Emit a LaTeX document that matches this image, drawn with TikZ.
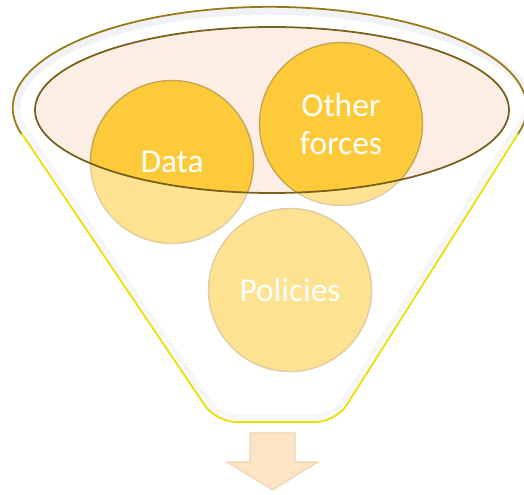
\documentclass[tikz,border=0pt]{standalone}
\usepackage{fontspec}
\setmainfont{Carlito}
\usetikzlibrary{calc}
\definecolor{ballgold}{RGB}{253,203,58}
\definecolor{ballrim}{RGB}{200,165,80}
\definecolor{rimpink}{RGB}{252,238,229}
\definecolor{rimline}{RGB}{120,96,28}
\definecolor{topline}{RGB}{150,122,20}
\definecolor{funnelline}{RGB}{236,224,0}
\definecolor{edgegray}{RGB}{200,200,215}
\definecolor{peach}{RGB}{252,228,198}
\definecolor{peachline}{RGB}{240,212,175}

\begin{document}
\begin{tikzpicture}[x=0.02cm, y=0.02cm,
  ball/.style = {circle, fill=ballgold, draw=ballrim, line width=0.8pt, minimum size=3.26cm, inner sep=0pt, text=white, align=center, font=\fontsize{19}{22}\selectfont}]
\useasboundingbox (0,0) rectangle (524,-494);
\clip (0,0) rectangle (524,-494);
        \fill[white] (22,-134) [rounded corners=0.4cm] -- (216,-422) -- (336,-422) -- (518,-134) [sharp corners] arc[start angle=-15, end angle=195, x radius=257, y radius=101] -- cycle;
        \begin{scope}
          \clip (22,-134) [rounded corners=0.4cm] -- (216,-422) -- (336,-422) -- (518,-134) [sharp corners] arc[start angle=-15, end angle=195, x radius=257, y radius=101] -- cycle;
          \draw[edgegray, line width=9pt, opacity=0.22] (22,-134) [rounded corners=0.4cm] -- (216,-422) -- (336,-422) -- (518,-134) [sharp corners] arc[start angle=-15, end angle=195, x radius=257, y radius=101] -- cycle;
        \end{scope}
        \fill[rimpink] (272,-110) ellipse[x radius=237, y radius=83];
        \node[ball] at (172,-162) (data) {Data};
        \node[ball] at (341,-124) (other) {Other\\forces};
        \node[ball] at (290,-290) (policies) {Policies};
        \begin{scope}
          \clip (22,-134) [rounded corners=0.4cm] -- (216,-422) -- (336,-422) -- (518,-134) [sharp corners] -- (527,-108) -- (13,-108) -- cycle;
          \fill[white, opacity=0.45] (0,-110) -- (35,-110) arc[start angle=180, end angle=360, x radius=237, y radius=83] -- (530,-110) -- (530,-500) -- (0,-500) -- cycle;
        \end{scope}
        \draw[funnelline, line width=1pt, rounded corners=0.4cm] (22,-134) -- (216,-422) -- (336,-422) -- (518,-134);
        \draw[topline, line width=1pt] (518,-134) arc[start angle=-15, end angle=195, x radius=257, y radius=101];
        \draw[rimline, line width=1pt] (272,-110) ellipse[x radius=237, y radius=83];
        \draw[peachline, fill=peach, line width=0.6pt] (250,-433) -- (295,-433) -- (295,-462) -- (318,-462) -- (272.5,-490) -- (227,-462) -- (250,-462) -- cycle;
\end{tikzpicture}
\end{document}
